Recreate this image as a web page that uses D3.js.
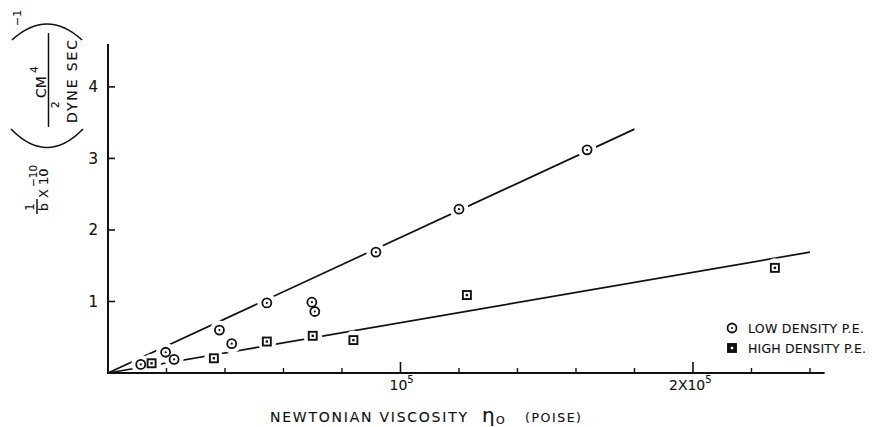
<!DOCTYPE html>
<html>
<head>
<meta charset="utf-8">
<script src="https://cdn.jsdelivr.net/npm/d3@7"></script>
<style>
  body { margin: 0; background: #fff; }
  text { font-family: 'DejaVu Sans', sans-serif; fill: #111; stroke: #111; stroke-width: 0.12px; }
</style>
</head>
<body>
<div class="canvas"></div>
<script>
// viscosity in poise, 1/b in units of 1e-10
const lowViscosity = [11200, 19700, 22600, 38100, 42300, 54300, 69700, 70700, 91600, 120000, 163800];
const lowInvB = [0.12, 0.29, 0.19, 0.60, 0.41, 0.98, 0.99, 0.86, 1.69, 2.29, 3.12];
const highViscosity = [14900, 36200, 54300, 70000, 83900, 122700, 228000];
const highInvB = [0.136, 0.206, 0.44, 0.52, 0.46, 1.09, 1.47];
// fitted lines through origin: [end viscosity, end 1/b]
const lowFit = [[0, 0], [180000, 3.41]];
const highFit = [[0, 0], [240000, 1.69]];
const xMajorTicks = [100000, 200000];
const xMinorTicks = [20000, 40000, 60000, 80000, 120000, 140000, 160000, 180000, 220000, 240000];
const yTicks = [1, 2, 3, 4];

const W = 872;
const H = 427;

const x = d3.scaleLinear().domain([0, 245000]).range([108, 824.6]);
const y = d3.scaleLinear().domain([0, 4.6]).range([373, 44]);

const svg = d3
  .select('.canvas')
  .append('svg')
  .attr('width', W)
  .attr('height', H);

// fit lines first, markers with white halo go on top to cut gaps
const line = d3
  .line()
  .x(d => x(d[0]))
  .y(d => y(d[1]));

svg
  .append('g')
  .selectAll('path')
  .data([lowFit, highFit])
  .join('path')
  .attr('d', line)
  .attr('fill', 'none')
  .attr('stroke', '#111')
  .attr('stroke-width', 1.7);

const lowPts = lowViscosity.map((v, i) => [v, lowInvB[i]]);
const highPts = highViscosity.map((v, i) => [v, highInvB[i]]);

const halo = svg.append('g');
halo
  .selectAll('circle')
  .data(lowPts.concat(highPts))
  .join('circle')
  .attr('cx', d => x(d[0]))
  .attr('cy', d => y(d[1]))
  .attr('r', 9.5)
  .attr('fill', '#fff');

const drawCircle = (g, cx, cy) => {
  g.append('circle')
    .attr('cx', cx)
    .attr('cy', cy)
    .attr('r', 4.5)
    .attr('fill', '#fff')
    .attr('stroke', '#111')
    .attr('stroke-width', 1.8);
  g.append('circle')
    .attr('cx', cx)
    .attr('cy', cy)
    .attr('r', 1.1)
    .attr('fill', '#111');
};

const drawSquare = (g, cx, cy, solid) => {
  g.append('rect')
    .attr('x', cx - 4)
    .attr('y', cy - 4)
    .attr('width', 8)
    .attr('height', 8)
    .attr('fill', solid ? '#111' : '#fff')
    .attr('stroke', '#111')
    .attr('stroke-width', 1.9);
  g.append('rect')
    .attr('x', cx - 1.2)
    .attr('y', cy - 1.2)
    .attr('width', 2.4)
    .attr('height', 2.4)
    .attr('fill', solid ? '#fff' : '#111');
};

const marks = svg.append('g');
lowPts.forEach(d => drawCircle(marks, x(d[0]), y(d[1])));
highPts.forEach(d => drawSquare(marks, x(d[0]), y(d[1]), false));

// axes
const axes = svg.append('g').attr('stroke', '#111');
axes
  .append('line')
  .attr('x1', x(0))
  .attr('x2', x(0))
  .attr('y1', y(4.6))
  .attr('y2', y(0) + 1)
  .attr('stroke-width', 2);
axes
  .append('line')
  .attr('x1', x(0) - 1)
  .attr('x2', x(245000))
  .attr('y1', y(0))
  .attr('y2', y(0))
  .attr('stroke-width', 2);

axes
  .selectAll('.ytick')
  .data(yTicks)
  .join('line')
  .attr('class', 'ytick')
  .attr('x1', x(0))
  .attr('x2', x(0) + 7)
  .attr('y1', d => y(d))
  .attr('y2', d => y(d))
  .attr('stroke-width', 1.6);

axes
  .selectAll('.xmajor')
  .data(xMajorTicks)
  .join('line')
  .attr('class', 'xmajor')
  .attr('x1', d => x(d))
  .attr('x2', d => x(d))
  .attr('y1', y(0))
  .attr('y2', y(0) - 11)
  .attr('stroke-width', 1.6);

axes
  .selectAll('.xminor')
  .data(xMinorTicks)
  .join('line')
  .attr('class', 'xminor')
  .attr('x1', d => x(d))
  .attr('x2', d => x(d))
  .attr('y1', y(0))
  .attr('y2', y(0) - 5)
  .attr('stroke-width', 1.4);

svg
  .append('g')
  .selectAll('text')
  .data(yTicks)
  .join('text')
  .attr('x', 98)
  .attr('y', d => y(d) + 5.5)
  .attr('text-anchor', 'end')
  .attr('font-size', 15)
  .text(d => d);

// x tick labels with power of ten
const xLab = svg.append('g').selectAll('text').data(xMajorTicks).join('text')
  .attr('x', d => x(d) + (d === 100000 ? -11 : -24))
  .attr('y', 390)
  .attr('font-size', 14);
xLab.append('tspan').text(d => (d === 100000 ? '10' : '2X10'));
xLab.append('tspan').attr('dy', -7).attr('font-size', 10).text('5');

// x axis title
svg
  .append('text')
  .attr('x', 270)
  .attr('y', 422)
  .attr('font-size', 14)
  .attr('textLength', 197)
  .attr('lengthAdjust', 'spacing')
  .text('NEWTONIAN  VISCOSITY');
svg.append('text').attr('x', 482).attr('y', 422).attr('font-size', 20).text('η');
svg.append('text').attr('x', 496).attr('y', 424).attr('font-size', 11).text('O');
svg
  .append('text')
  .attr('x', 525)
  .attr('y', 422)
  .attr('font-size', 12.5)
  .attr('textLength', 56)
  .attr('lengthAdjust', 'spacing')
  .text('(POISE)');

// y axis title, rotated: local (lx, ly) -> screen (ly, -lx)
const yt = svg.append('g').attr('transform', 'rotate(-90)');
yt.append('text').attr('x', -207).attr('y', 34).attr('text-anchor', 'middle').attr('font-size', 12).text('1');
yt.append('line').attr('x1', -214).attr('x2', -199).attr('y1', 37).attr('y2', 37).attr('stroke', '#111').attr('stroke-width', 1.5);
yt.append('text').attr('x', -207).attr('y', 47.5).attr('text-anchor', 'middle').attr('font-size', 13).text('b');
yt.append('text').attr('x', -198).attr('y', 47.5).attr('font-size', 13).text('X 10');
yt.append('text').attr('x', -187).attr('y', 37).attr('font-size', 10.5).text('−10');
yt.append('text').attr('x', -98).attr('y', 46).attr('font-size', 14).text('CM');
yt.append('text').attr('x', -73).attr('y', 38).attr('font-size', 10.5).text('4');
yt.append('line').attr('x1', -127).attr('x2', -33).attr('y1', 48.5).attr('y2', 48.5).attr('stroke', '#111').attr('stroke-width', 1.5);
yt.append('text').attr('x', -108).attr('y', 59).attr('font-size', 10.5).text('2');
yt.append('text').attr('x', -123).attr('y', 77).attr('font-size', 14).attr('textLength', 83).attr('lengthAdjust', 'spacing').text('DYNE  SEC');
yt.append('text').attr('x', -26).attr('y', 21).attr('font-size', 11).text('−1');

// big parentheses drawn as arcs
svg
  .append('g')
  .selectAll('path')
  .data([
    [[11, 129], [47, 166], [83, 129]],
    [[12, 40], [47, 8], [82, 40]],
  ])
  .join('path')
  .attr('d', d => `M${d[0][0]},${d[0][1]} Q${d[1][0]},${d[1][1]} ${d[2][0]},${d[2][1]}`)
  .attr('fill', 'none')
  .attr('stroke', '#111')
  .attr('stroke-width', 1.6);

// legend
const legend = svg.append('g');
drawCircle(legend, 732, 328);
drawSquare(legend, 732, 348, true);
legend
  .append('text')
  .attr('x', 748)
  .attr('y', 333)
  .attr('font-size', 12.5)
  .attr('textLength', 116)
  .attr('lengthAdjust', 'spacing')
  .text('LOW  DENSITY  P.E.');
legend
  .append('text')
  .attr('x', 748)
  .attr('y', 353)
  .attr('font-size', 12.5)
  .attr('textLength', 118)
  .attr('lengthAdjust', 'spacing')
  .text('HIGH  DENSITY  P.E.');
</script>
</body>
</html>
